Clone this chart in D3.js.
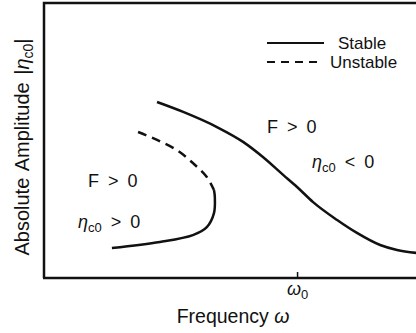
<!DOCTYPE html>
<html>
<head>
<meta charset="utf-8">
<script src="https://cdn.jsdelivr.net/npm/d3@7/dist/d3.min.js"></script>
<style>
  html, body { margin: 0; padding: 0; background: #fff; }
  svg { display: block; }
  text { font-family: "Liberation Sans", Arial, Helvetica, sans-serif; fill: #111; }
</style>
</head>
<body>
<svg id="chart" width="416" height="333"></svg>
<script>
// Frequency axis (ω0 = 1) and normalised amplitude axis
const xDomain = [0.4, 1.282];
const yDomain = [0, 1];
const tickValues = [1];

// Upper stable branch (F > 0, ηc0 < 0)
const stableUpperFreq = [0.668, 0.730, 0.810, 0.872, 0.919, 0.967, 1.000, 1.038, 1.095, 1.142, 1.197, 1.237, 1.284];
const stableUpperAmp  = [0.640, 0.604, 0.549, 0.495, 0.440, 0.375, 0.331, 0.276, 0.211, 0.164, 0.120, 0.102, 0.091];

// Unstable middle branch
const unstableFreq = [0.623, 0.668, 0.715, 0.753, 0.786, 0.803];
const unstableAmp  = [0.531, 0.502, 0.465, 0.418, 0.367, 0.320];

// Lower stable branch (F > 0, ηc0 > 0)
const stableLowerFreq = [0.803, 0.805, 0.803, 0.786, 0.753, 0.675, 0.561];
const stableLowerAmp  = [0.320, 0.295, 0.236, 0.185, 0.156, 0.131, 0.109];

const legendLabels = ["Stable", "Unstable"];

const svg = d3.select("#chart");
const mLeft = 44, mTop = 3, mBottom = 278, mRight = 416;

const x = d3.scaleLinear().domain(xDomain).range([mLeft, mRight]);
const y = d3.scaleLinear().domain(yDomain).range([mBottom, mTop]);

const ink = "#111";

// frame: top and left edges (open to the right)
svg.append("path")
  .attr("d", `M${mRight + 5},${mTop} H${mLeft} V${mBottom}`)
  .attr("fill", "none").attr("stroke", ink).attr("stroke-width", 2.5);

// bottom axis with the single ω0 tick pointing inwards
const xAxis = d3.axisBottom(x).tickValues(tickValues).tickSizeInner(-6).tickSizeOuter(0).tickFormat("");
const gx = svg.append("g").attr("transform", `translate(0,${mBottom})`).call(xAxis);
gx.select(".domain").attr("stroke", ink).attr("stroke-width", 2.5).attr("d", `M${mLeft - 1},0H${mRight + 5}`);
gx.selectAll(".tick line").attr("stroke", ink).attr("stroke-width", 1.5);
gx.selectAll(".tick").each(function () {
  const t = d3.select(this).append("text")
    .attr("y", 17).attr("text-anchor", "middle")
    .attr("fill", ink)
    .style("font-size", "18px");
  t.append("tspan").text("ω").style("font-style", "italic");
  t.append("tspan").text("0").attr("dy", 4).style("font-size", "13px");
});

// curves
const smooth = (fs, as, curve) => d3.line()
  .x(d => x(d[0])).y(d => y(d[1]))
  .curve(curve)(d3.zip(fs, as));

svg.append("path").attr("d", smooth(stableUpperFreq, stableUpperAmp, d3.curveMonotoneX))
  .attr("fill", "none").attr("stroke", ink).attr("stroke-width", 2.5);
svg.append("path").attr("d", smooth(unstableFreq, unstableAmp, d3.curveCatmullRom.alpha(0.5)))
  .attr("fill", "none").attr("stroke", ink).attr("stroke-width", 2.5)
  .attr("stroke-dasharray", "9,6");
svg.append("path").attr("d", smooth(stableLowerFreq, stableLowerAmp, d3.curveCatmullRom.alpha(0.5)))
  .attr("fill", "none").attr("stroke", ink).attr("stroke-width", 2.5);

// legend
const legend = svg.append("g");
legendLabels.forEach((lab, i) => {
  const ly = 43 + i * 19;
  legend.append("line")
    .attr("x1", 267).attr("x2", i === 0 ? 324 : 320)
    .attr("y1", ly).attr("y2", ly)
    .attr("stroke", ink).attr("stroke-width", 2)
    .attr("stroke-dasharray", i === 0 ? null : "8,6");
  legend.append("text")
    .attr("x", i === 0 ? 338 : 330).attr("y", ly + 6)
    .style("font-size", "17px").text(lab);
});

// region annotations
function fLabel(px, py) {
  svg.append("text").attr("x", px).attr("y", py)
    .style("font-size", "18px").style("word-spacing", "4px").text("F > 0");
}
function etaLabel(px, py, rel) {
  const t = svg.append("text").attr("x", px).attr("y", py).style("font-size", "18px");
  t.append("tspan").text("η").style("font-style", "italic");
  t.append("tspan").text("c0").attr("dy", 4).style("font-size", "13px");
  t.append("tspan").text(" " + rel + " 0").attr("dy", -4).style("word-spacing", "4px");
}
fLabel(88, 187);
etaLabel(78, 228, ">");
fLabel(267, 133);
etaLabel(312, 168, "<");

// axis titles
const xt = svg.append("text").attr("x", 233).attr("y", 323)
  .attr("text-anchor", "middle").style("font-size", "19.5px");
xt.append("tspan").text("Frequency ");
xt.append("tspan").text("ω").style("font-style", "italic");

const yt = svg.append("text")
  .attr("transform", `translate(29,147) rotate(-90)`)
  .attr("text-anchor", "middle").style("font-size", "20px")
  .style("word-spacing", "2px");
yt.append("tspan").text("Absolute Amplitude |");
yt.append("tspan").text("η").style("font-style", "italic");
yt.append("tspan").text("c0").attr("dy", 4).style("font-size", "14px");
yt.append("tspan").text("|").attr("dy", -4);
</script>
</body>
</html>
